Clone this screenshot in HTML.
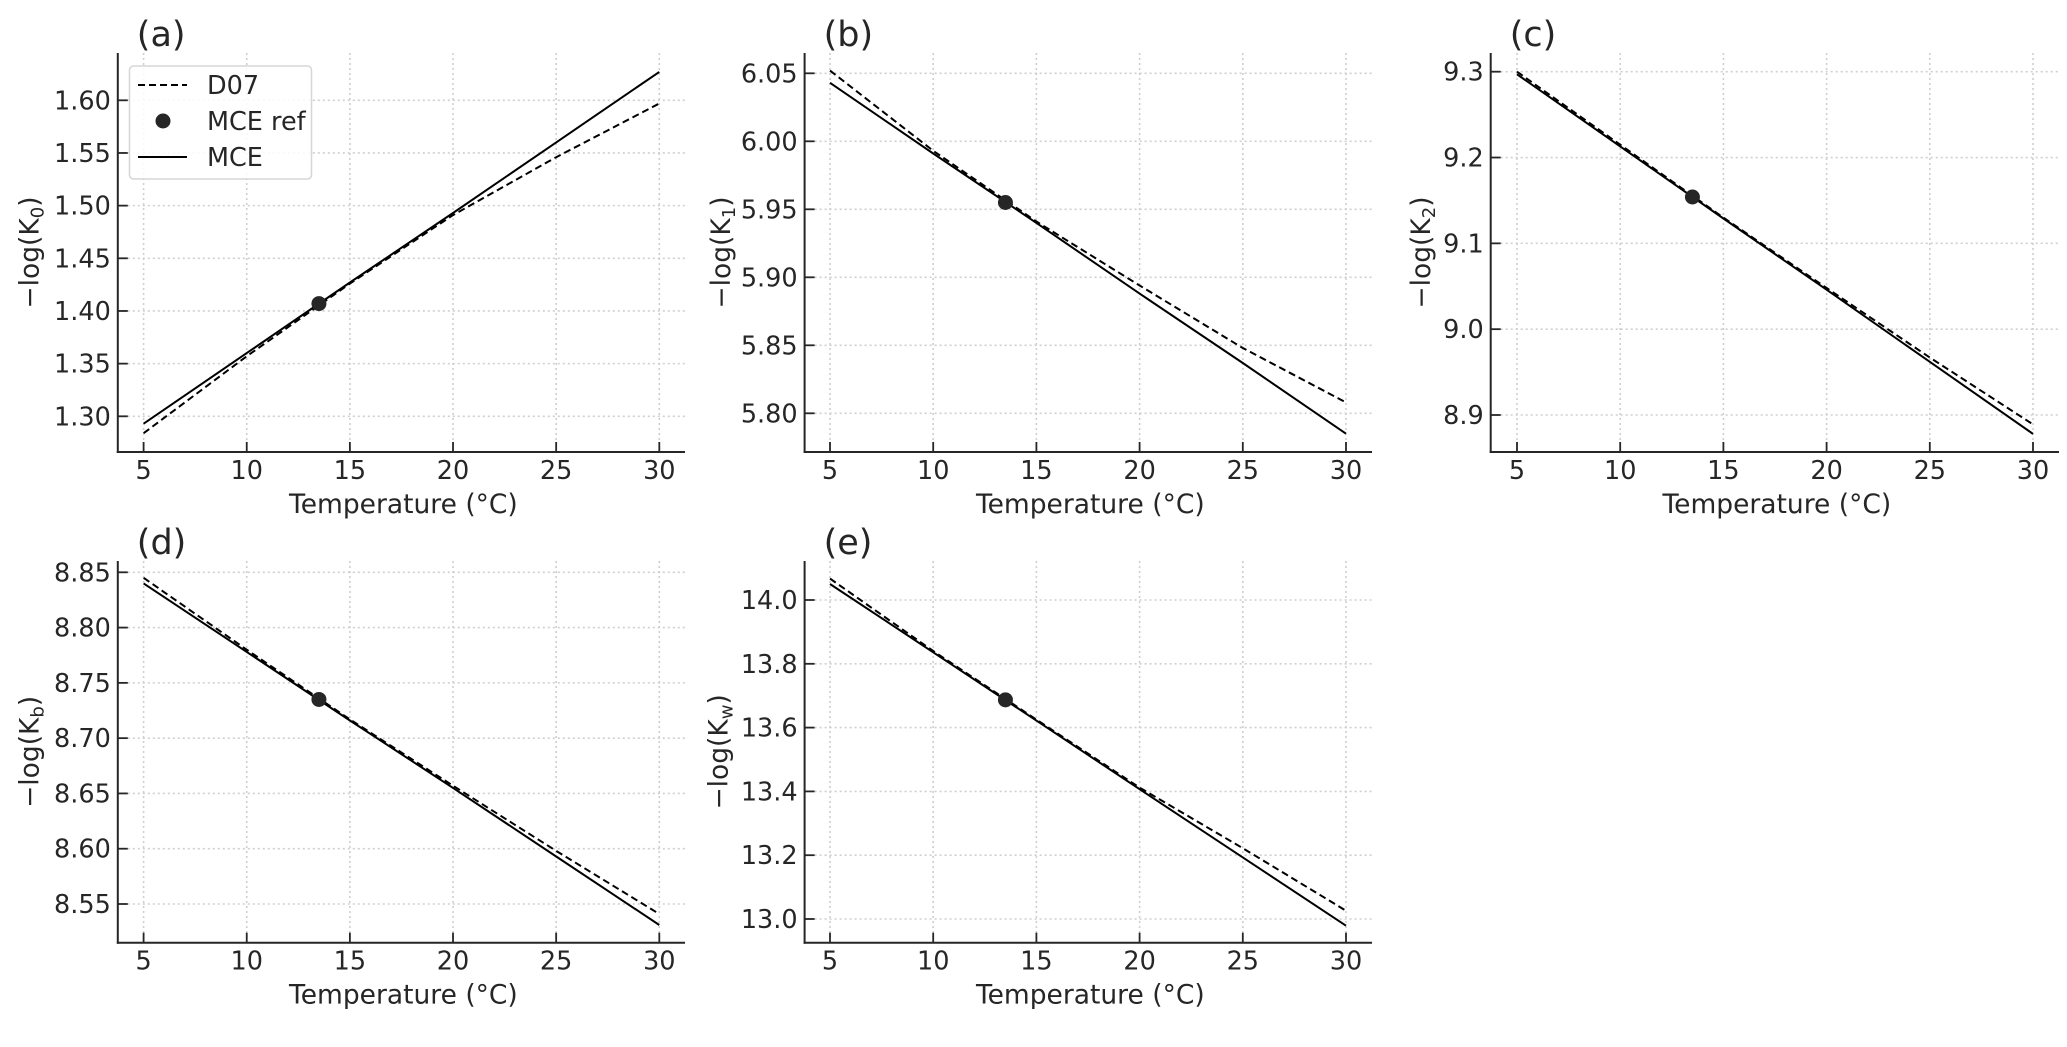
<!DOCTYPE html>
<html><head><meta charset="utf-8"><style>
html,body{margin:0;padding:0;background:#fff}
svg{display:block}
text{font-family:"DejaVu Sans","Liberation Sans",sans-serif;fill:#262626}
</style></head><body>
<svg id="fig" width="2067" height="1047" viewBox="0 0 2067 1047" xmlns="http://www.w3.org/2000/svg"></svg>
<script>
const temps = [5, 10, 15, 20, 25, 30];
const xTicks = [5, 10, 15, 20, 25, 30];
const refT = 13.5;
// panel (a) K0
const mceA = [1.293, 1.360, 1.427, 1.493, 1.560, 1.627];
const d07A = [1.284, 1.357, 1.426, 1.491, 1.546, 1.597];
const refA = 1.407;
const ticksA = [1.30, 1.35, 1.40, 1.45, 1.50, 1.55, 1.60];
// panel (b) K1
const mceB = [6.043, 5.991, 5.940, 5.888, 5.837, 5.785];
const d07B = [6.052, 5.993, 5.941, 5.894, 5.848, 5.808];
const refB = 5.955;
const ticksB = [5.80, 5.85, 5.90, 5.95, 6.00, 6.05];
// panel (c) K2
const mceC = [9.297, 9.213, 9.129, 9.046, 8.962, 8.878];
const d07C = [9.300, 9.215, 9.130, 9.048, 8.967, 8.889];
const refC = 9.154;
const ticksC = [8.9, 9.0, 9.1, 9.2, 9.3];
// panel (d) Kb
const mceD = [8.840, 8.778, 8.716, 8.655, 8.593, 8.531];
const d07D = [8.845, 8.780, 8.717, 8.657, 8.598, 8.541];
const refD = 8.735;
const ticksD = [8.55, 8.60, 8.65, 8.70, 8.75, 8.80, 8.85];
// panel (e) Kw
const mceE = [14.050, 13.836, 13.622, 13.407, 13.193, 12.979];
const d07E = [14.067, 13.840, 13.625, 13.412, 13.222, 13.026];
const refE = 13.687;
const ticksE = [13.0, 13.2, 13.4, 13.6, 13.8, 14.0];

const NS = "http://www.w3.org/2000/svg";
const svg = document.getElementById('fig');
function mk(tag, attrs, parent) {
  const e = document.createElementNS(NS, tag);
  for (const k in attrs) e.setAttribute(k, attrs[k]);
  (parent || svg).appendChild(e);
  return e;
}

const panels = [
  {id:'a', sub:'0', mce:mceA, d07:d07A, ref:refA, ticks:ticksA, dec:2,
   x5:143.6, x30:659.3, spineL:117.8, spineR:685, top:53, bot:452,
   yv1:1.60, yp1:100.3, yv2:1.30, yp2:416.3, ylabX:29.5, legend:true},
  {id:'b', sub:'1', mce:mceB, d07:d07B, ref:refB, ticks:ticksB, dec:2,
   x5:830, x30:1346, spineL:804.6, spineR:1372, top:53, bot:452,
   yv1:6.05, yp1:73.3, yv2:5.80, yp2:413.3, ylabX:721},
  {id:'c', sub:'2', mce:mceC, d07:d07C, ref:refC, ticks:ticksC, dec:1,
   x5:1517, x30:2033, spineL:1490.7, spineR:2059, top:53, bot:452,
   yv1:9.3, yp1:71.7, yv2:8.9, yp2:415, ylabX:1421},
  {id:'d', sub:'b', mce:mceD, d07:d07D, ref:refD, ticks:ticksD, dec:2,
   x5:143.6, x30:659.3, spineL:117.8, spineR:685, top:561, bot:942.7,
   yv1:8.85, yp1:572.3, yv2:8.55, yp2:904, ylabX:29.5},
  {id:'e', sub:'w', mce:mceE, d07:d07E, ref:refE, ticks:ticksE, dec:1,
   x5:830, x30:1346, spineL:804.6, spineR:1372, top:561, bot:942.7,
   yv1:14.0, yp1:600, yv2:13.0, yp2:919, ylabX:718.5}
];

panels.forEach(p => {
  const g = mk('g', {});
  
  
  const xs = t => p.x5 + (t - 5) * (p.x30 - p.x5) / 25;
  const ys = v => p.yp1 + (v - p.yv1) * (p.yp2 - p.yp1) / (p.yv2 - p.yv1);
  xTicks.forEach(t => {
    const l = mk('line', {x1:xs(t), x2:xs(t), y1:p.top, y2:p.bot, stroke:'#cfcfcf', 'stroke-width':1.6, 'stroke-dasharray':'2,3'}, g);
    
    
  });
  p.ticks.forEach(v => {
    const l = mk('line', {x1:p.spineL, x2:p.spineR, y1:ys(v), y2:ys(v), stroke:'#cfcfcf', 'stroke-width':1.6, 'stroke-dasharray':'2,3'}, g);
    
    
  });
  const sl = mk('line', {x1:p.spineL, x2:p.spineL, y1:p.top, y2:p.bot+1, stroke:'#262626', 'stroke-width':2}, g);
  
  
  const sb = mk('line', {x1:p.spineL-1, x2:p.spineR, y1:p.bot, y2:p.bot, stroke:'#262626', 'stroke-width':2}, g);
  
  
  xTicks.forEach(t => {
    const tk = mk('line', {x1:xs(t), x2:xs(t), y1:p.bot, y2:p.bot-10, stroke:'#262626', 'stroke-width':1.8}, g);
    
    
    const tx = mk('text', {x:xs(t), y:p.bot+27, 'text-anchor':'middle', 'font-size':25.5}, g);
    tx.textContent = String(t);
    
    
  });
  p.ticks.forEach(v => {
    const tk = mk('line', {x1:p.spineL, x2:p.spineL+10, y1:ys(v), y2:ys(v), stroke:'#262626', 'stroke-width':1.8}, g);
    
    
    const tx = mk('text', {x:p.spineL-7, y:ys(v)+9, 'text-anchor':'end', 'font-size':25.5}, g);
    tx.textContent = v.toFixed(p.dec);
    
    
  });
  const xl = mk('text', {x:(p.spineL+p.spineR)/2 + 2, y:p.bot+61, 'text-anchor':'middle', 'font-size':26.5}, g);
  xl.textContent = 'Temperature (°C)';
  
  
  const cy = (p.top + p.bot) / 2;
  const yl = mk('text', {x:p.ylabX, y:cy, 'text-anchor':'middle', 'font-size':26.5, transform:`rotate(-90 ${p.ylabX} ${cy}) translate(0 9)`}, g);
  
  
  yl.appendChild(document.createTextNode('\u2212log(K'));
  const ts = mk('tspan', {'font-size':18, dy:5}, yl);
  ts.textContent = p.sub;
  const ts2 = mk('tspan', {dy:-5}, yl);
  ts2.textContent = ')';
  const tt = mk('text', {x:p.spineL+19, y:p.top-7, 'font-size':35}, g);
  tt.textContent = '(' + p.id + ')';
  
  
  const dpts = temps.map((t,i) => xs(t).toFixed(1) + ',' + ys(p.d07[i]).toFixed(1)).join(' ');
  const dl = mk('polyline', {points:dpts, fill:'none', stroke:'#000', 'stroke-width':2, 'stroke-dasharray':'7,4'}, g);
  
  
  const mpts = temps.map((t,i) => xs(t).toFixed(1) + ',' + ys(p.mce[i]).toFixed(1)).join(' ');
  const ml = mk('polyline', {points:mpts, fill:'none', stroke:'#000', 'stroke-width':2}, g);
  
  
  const rc = mk('circle', {cx:xs(refT), cy:ys(p.ref), r:7.5, fill:'#262626'}, g);
  
  

  if (p.legend) {
    const lg = mk('g', {}, g);
    
    
    mk('rect', {x:129.5, y:66, width:182, height:113, rx:4, fill:'#fff', 'fill-opacity':0.85, stroke:'#d6d6d6', 'stroke-width':1.5}, lg);
    const l1 = mk('line', {x1:138, x2:187, y1:85, y2:85, stroke:'#000', 'stroke-width':2, 'stroke-dasharray':'7,4'}, lg);
    
    
    const t1 = mk('text', {x:207, y:94, 'font-size':25.5}, lg);
    t1.textContent = 'D07';
    
    
    const c2 = mk('circle', {cx:163, cy:121, r:7.5, fill:'#262626'}, lg);
    
    
    const t2 = mk('text', {x:207, y:130, 'font-size':25.5}, lg);
    t2.textContent = 'MCE ref';
    
    
    const l3 = mk('line', {x1:138, x2:187, y1:157, y2:157, stroke:'#000', 'stroke-width':2}, lg);
    
    
    const t3 = mk('text', {x:207, y:166, 'font-size':25.5}, lg);
    t3.textContent = 'MCE';
    
    
  }
});
</script>
</body></html>
